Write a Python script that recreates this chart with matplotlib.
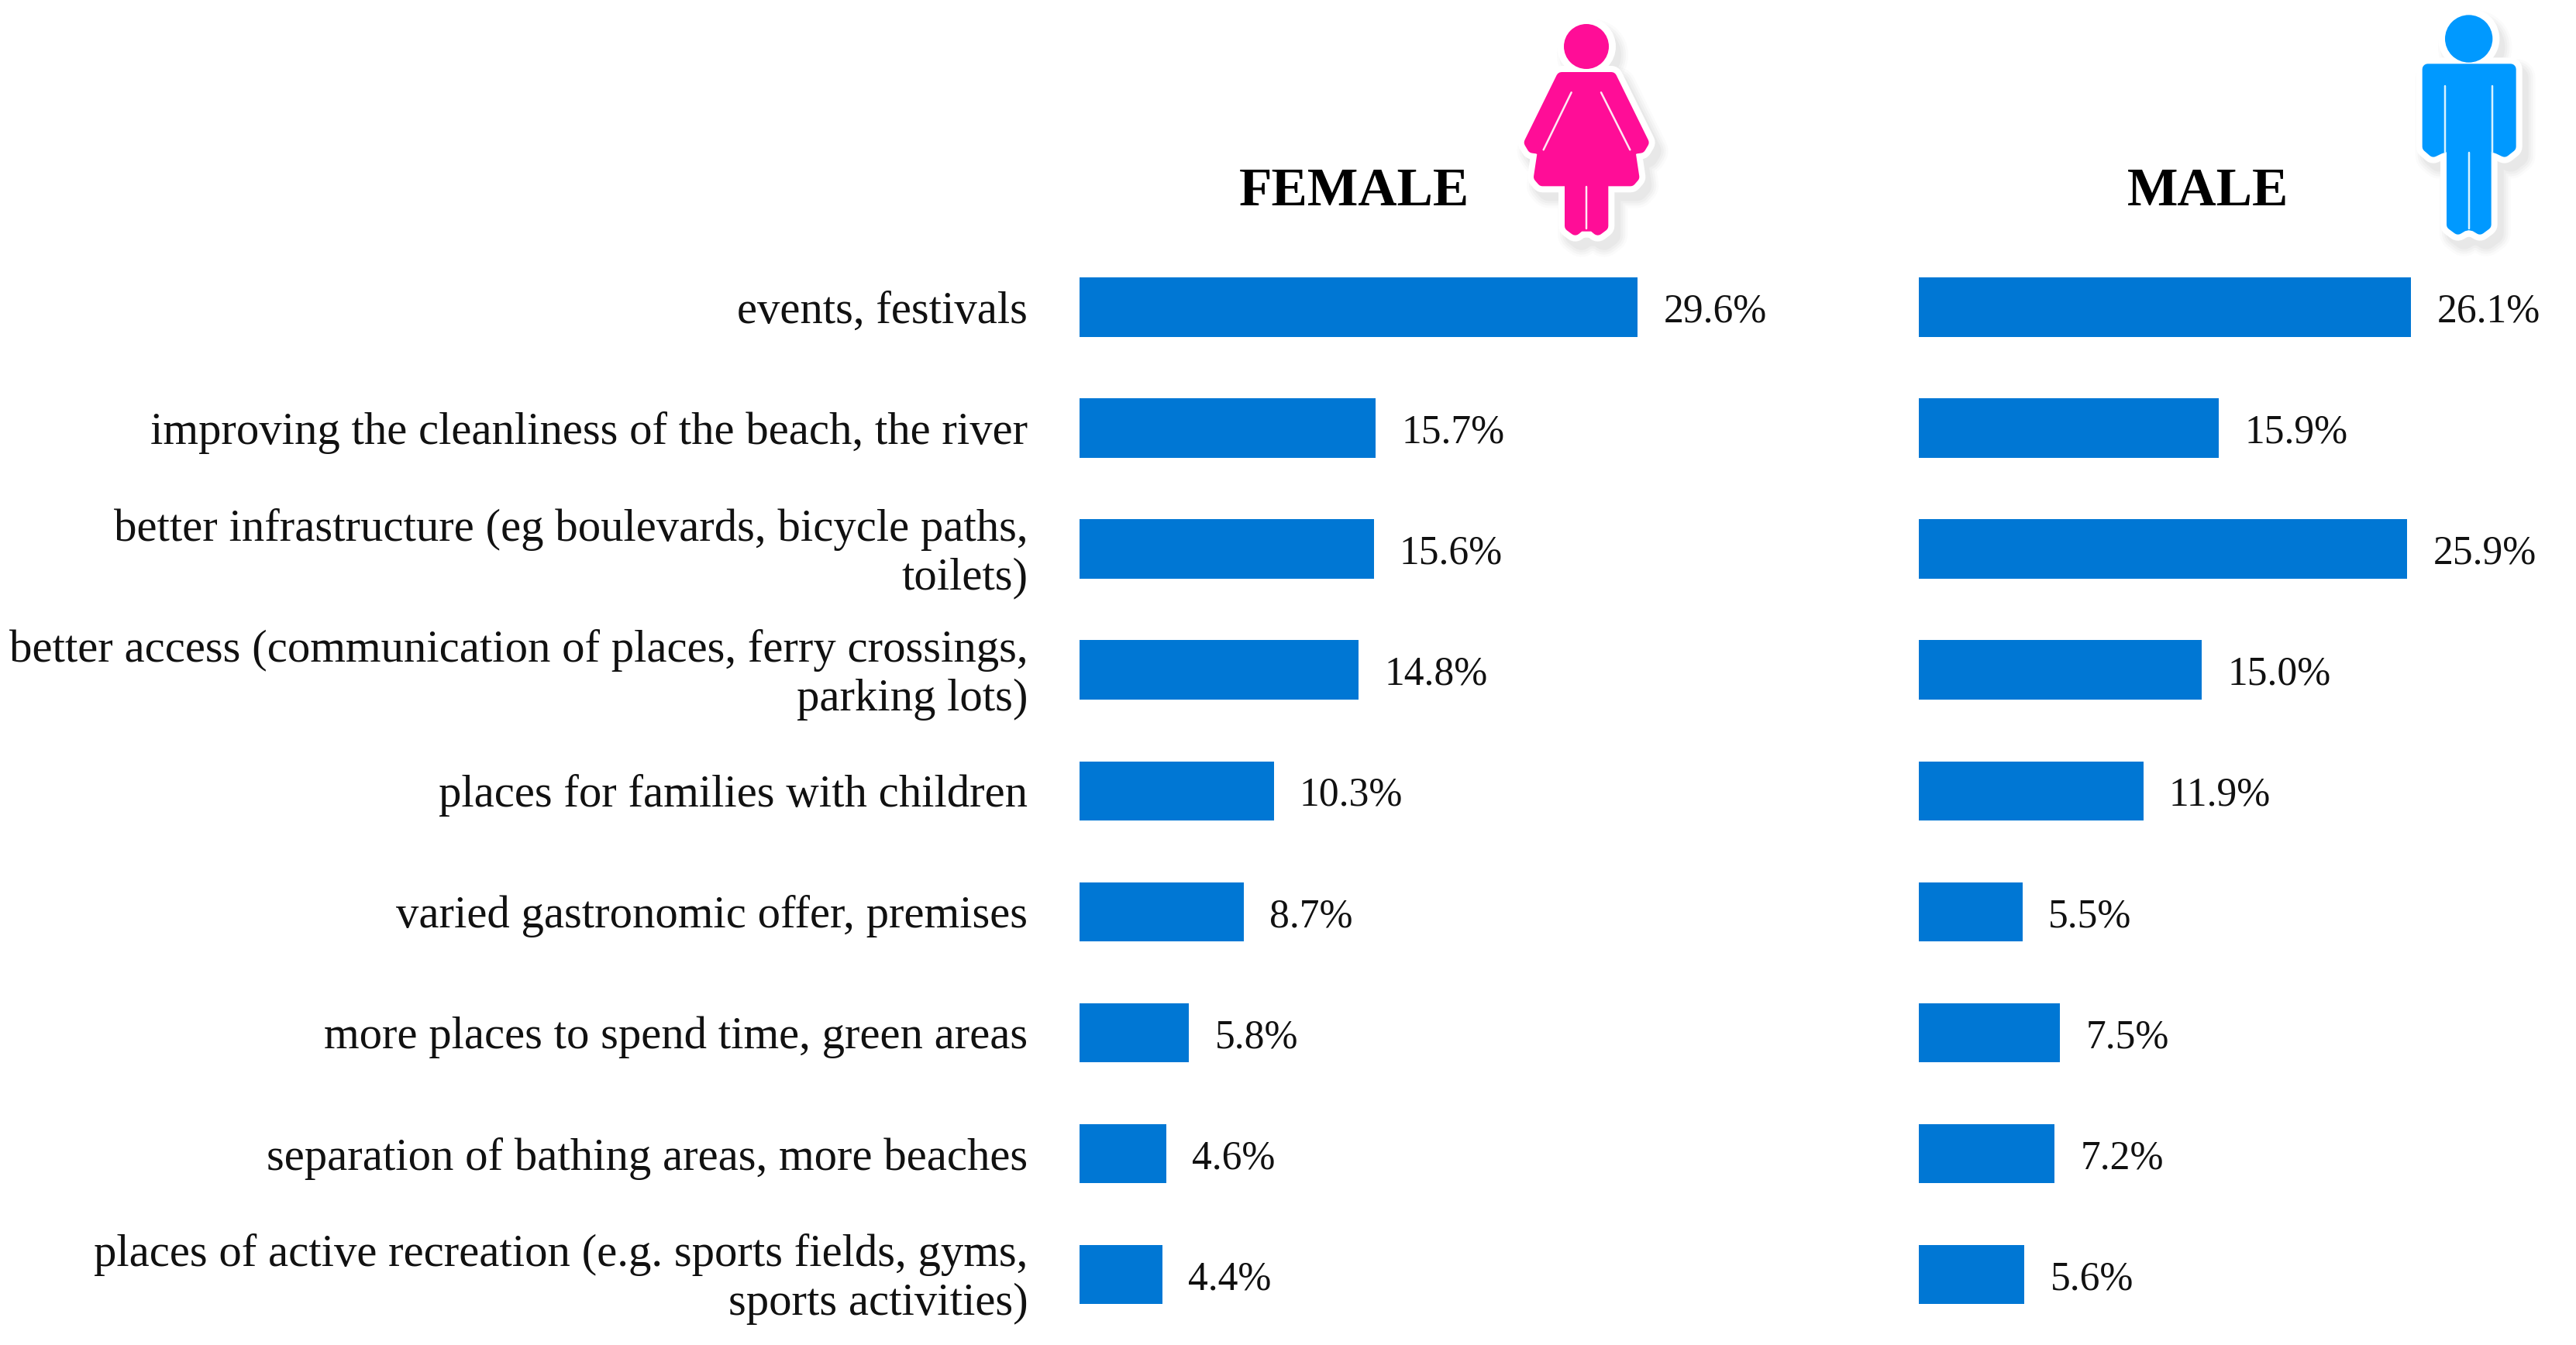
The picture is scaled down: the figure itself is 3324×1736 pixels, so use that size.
import matplotlib
matplotlib.use("Agg")
import matplotlib.pyplot as plt
from matplotlib.patches import Polygon, Circle
from matplotlib.ticker import NullLocator

W, H = 3324, 1736
DPI = 100

categories = [
    "events, festivals",
    "improving the cleanliness of the beach, the river",
    "better infrastructure (eg boulevards, bicycle paths,\ntoilets)",
    "better access (communication of places, ferry crossings,\nparking lots)",
    "places for families with children",
    "varied gastronomic offer, premises",
    "more places to spend time, green areas",
    "separation of bathing areas, more beaches",
    "places of active recreation (e.g. sports fields, gyms,\nsports activities)",
]
female = [29.6, 15.7, 15.6, 14.8, 10.3, 8.7, 5.8, 4.6, 4.4]
male = [26.1, 15.9, 25.9, 15.0, 11.9, 5.5, 7.5, 7.2, 5.6]
titles = ["FEMALE", "MALE"]

BAR = "#0077D4"
PINK = "#FF0D97"
SKY = "#0099FF"
SERIF = ["Liberation Serif", "DejaVu Serif"]
LABEL_FS = 42.3
VALUE_FS = 37.2
TITLE_FS = 50

fig = plt.figure(figsize=(W / DPI, H / DPI), dpi=DPI, facecolor="white")
plt.rcParams["font.family"] = SERIF

PX_PER = 24.33
TOP, BOT = 318.5, 1723.0


def make_axes(x0, xmax):
    w = xmax * PX_PER
    return fig.add_axes([x0 / W, 1 - BOT / H, w / W, (BOT - TOP) / H])


def panel(ax, values, show_labels):
    pos = list(range(len(values)))
    ax.barh(pos, values, height=0.49, color=BAR, edgecolor="none")
    ax.set_ylim(len(values) - 0.5, -0.5)
    ax.set_xlim(0, ax.get_position().width * W / PX_PER)
    for s in ax.spines.values():
        s.set_visible(False)
    ax.xaxis.set_major_locator(NullLocator())
    ax.yaxis.set_major_locator(NullLocator())
    ax.patch.set_alpha(0)
    if show_labels:
        for p, name in zip(pos, categories):
            ax.annotate(name, xy=(0, p), xytext=(-48, -4.4),
                        textcoords="offset points", ha="right", va="center",
                        multialignment="right", fontsize=LABEL_FS, family=SERIF,
                        color="#111111", linespacing=1.22, annotation_clip=False)
    for p, v in zip(pos, values):
        ax.annotate(f"{v:.1f}%", xy=(v, p), xytext=(24, -4.5),
                    textcoords="offset points", ha="left", va="center",
                    fontsize=VALUE_FS, family=SERIF, color="#111111")


ax_f = make_axes(1393, 34)
ax_m = make_axes(2476, 34)
panel(ax_f, female, True)
panel(ax_m, male, False)

fig.text(1747 / W, 1 - 248 / H, titles[0], ha="center", va="center",
         fontsize=TITLE_FS, fontweight="bold", family=SERIF, color="black")
fig.text(2849 / W, 1 - 248 / H, titles[1], ha="center", va="center",
         fontsize=TITLE_FS, fontweight="bold", family=SERIF, color="black")

# Pictogram overlay in pixel coordinates
ov = fig.add_axes([0, 0, 1, 1], zorder=5)
ov.set_xlim(0, W)
ov.set_ylim(H, 0)
ov.axis("off")
PT = 72 / DPI
CORE = 14


def icon(ox, oy, head, body, slits, color):
    def T(p):
        return [(ox + x / 3, oy + y / 3) for x, y in p]
    hc = T([head[:2]])[0]
    hr = head[2] / 3
    pts = T(body)
    # soft shadow
    for lw, a in [(48, 0.025), (42, 0.03), (36, 0.035), (30, 0.04)]:
        off = (8, 11)
        sp = [(x + off[0], y + off[1]) for x, y in pts]
        ov.add_patch(Polygon(sp, closed=True, fc="#555555", ec="#555555",
                             alpha=a, lw=lw * PT, joinstyle="round"))
        ov.add_patch(Circle((hc[0] + off[0], hc[1] + off[1]), hr + (lw - CORE) / 2,
                            fc="#555555", ec="none", alpha=a))
    # white halo
    ov.add_patch(Polygon(pts, closed=True, fc="white", ec="white",
                         lw=30 * PT, joinstyle="round"))
    ov.add_patch(Circle(hc, hr + 9, fc="white", ec="none"))
    # figure
    ov.add_patch(Polygon(pts, closed=True, fc=color, ec=color,
                         lw=CORE * PT, joinstyle="round"))
    ov.add_patch(Circle(hc, hr, fc=color, ec="none"))
    for s in slits:
        xs, ys = zip(*T(s))
        ov.plot(xs, ys, color="#FFE8F4" if color == PINK else "#D8F2FF",
                lw=2.5 * PT, solid_capstyle="round")


female_body = [(345, 300), (538, 300), (662, 552), (650, 572), (628, 575), (610, 585),
               (625, 685), (612, 700), (505, 700), (505, 875), (485, 890), (467, 875),
               (441, 875), (416, 875), (398, 890), (378, 875), (378, 700), (271, 700),
               (258, 685), (273, 585), (255, 575), (233, 572), (221, 552)]
female_slits = [[(383, 358), (275, 580)], [(498, 358), (610, 580)],
                [(441, 722), (441, 885)]]
male_body = [(248, 268), (569, 268), (569, 568), (545, 587), (520, 575), (473, 560),
             (473, 870), (450, 887), (430, 875), (407, 870), (385, 875), (365, 887),
             (342, 870), (342, 560), (295, 575), (270, 587), (248, 568)]
male_slits = [[(316, 332), (316, 590)], [(497, 332), (497, 590)],
              [(407, 590), (407, 885)]]

icon(1900, 0, (441, 180, 87), female_body, female_slits, PINK)
icon(3050, 0, (407, 150, 92), male_body, male_slits, SKY)

fig.savefig("out.png", dpi=DPI, facecolor="white")
